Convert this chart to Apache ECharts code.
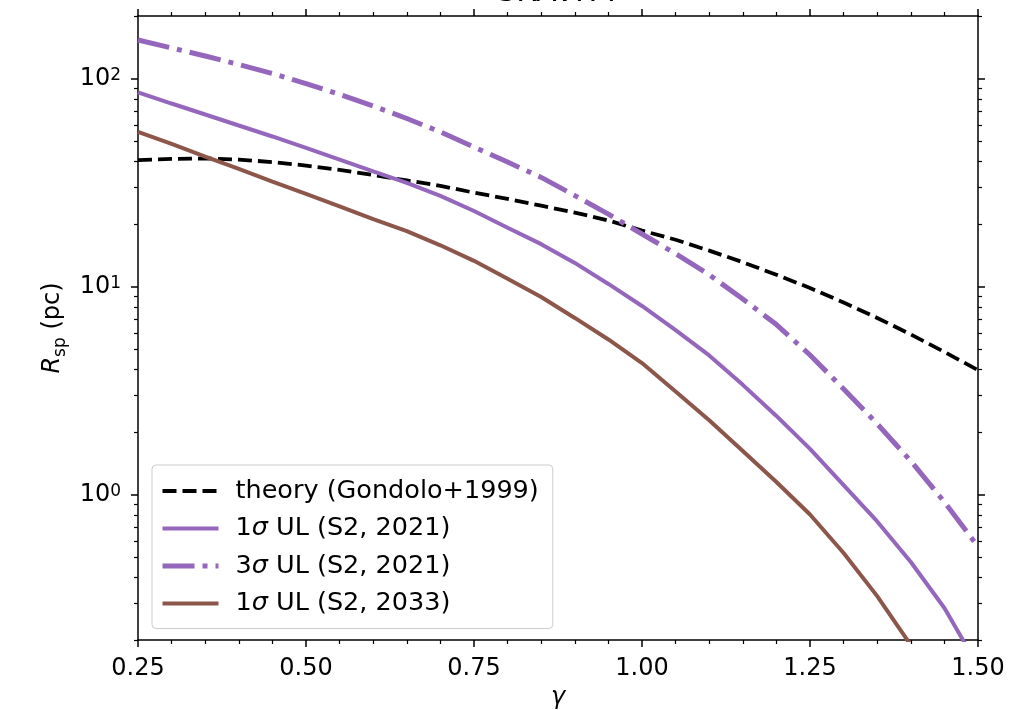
<!DOCTYPE html>
<html><head><meta charset="utf-8">
<script src="https://cdn.jsdelivr.net/npm/echarts@6/dist/echarts.min.js"></script>
<style>html,body{margin:0;padding:0;background:#fff}#chart{width:1020px;height:710px}</style>
</head><body><div id="chart"></div>
<script>
// ---- data ----
const gamma = [0.25,0.30,0.35,0.40,0.45,0.50,0.55,0.60,0.65,0.70,0.75,0.80,0.85,0.90,0.95,1.00,1.05,1.10,1.15,1.20,1.25,1.30,1.35,1.40,1.45,1.50];
const theory = [40.6,41.1,41.3,40.8,39.7,38.2,36.4,34.4,32.4,30.5,28.3,26.4,24.5,22.7,20.8,18.6,16.8,14.9,13.1,11.4,9.85,8.39,7.07,5.89,4.85,3.97];
const ul1s2021 = [85.9,75.9,67.2,59.5,52.7,46.4,40.8,35.8,31.5,27.3,23.1,19.2,16.0,13.0,10.3,8.07,6.18,4.67,3.37,2.39,1.66,1.11,0.743,0.474,0.285,0.150];
const ul3s2021 = [153.3,140.4,128.5,116.9,105.8,94.7,83.9,73.8,64.3,55.4,46.9,39.7,33.5,27.4,22.3,17.9,14.4,11.4,8.72,6.57,4.69,3.22,2.19,1.45,0.921,0.562];
const ul1s2033 = [55.5,48.5,42.2,36.8,32.0,27.9,24.3,21.1,18.5,15.8,13.3,10.9,8.91,7.07,5.57,4.29,3.13,2.28,1.62,1.15,0.802,0.524,0.325,0.189];
const seriesNames = ['theory (Gondolo+1999)', '1σ UL (S2, 2021)', '3σ UL (S2, 2021)', '1σ UL (S2, 2033)'];
const yMajorTicks = [1, 10, 100];
const yMinorTicks = [0.2,0.3,0.4,0.5,0.6,0.7,0.8,0.9,2,3,4,5,6,7,8,9,20,30,40,50,60,70,80,90,200];
const xTickLabels = ['0.25','0.50','0.75','1.00','1.25','1.50'];
const titleText = 'GRAVITY';
const yMin = 0.2, yMax = 200;
const xMin = 0.25, xMax = 1.5, xStep = 0.25;

// ---- chart ----
const FONT = 'DejaVu Sans';
const lg = v => Math.log10(v);
const pairs = arr => arr.map((v, i) => [gamma[i], v]);
const axisLineStyle = {color: '#000', width: 1.5};

function yTickAxis(position, values, len, width, showLine, withLabels) {
  const ax = {
    type: 'value', gridIndex: 0, position: position,
    min: lg(yMin), max: lg(yMax),
    axisLine: {show: showLine, onZero: false, lineStyle: axisLineStyle},
    axisTick: {show: true, inside: false, length: len, lineStyle: {color: '#000', width: width}, customValues: values.map(lg)},
    axisLabel: {show: false},
    splitLine: {show: false}
  };
  if (withLabels) {
    ax.axisLabel = {
      show: true, customValues: values.map(lg), margin: 17,
      formatter: v => '{b|10}{s|' + Math.round(v) + '}',
      rich: {
        b: {fontSize: 24, lineHeight: 24, fontFamily: FONT, color: '#000', verticalAlign: 'bottom'},
        s: {fontSize: 17, lineHeight: 17, fontFamily: FONT, color: '#000', verticalAlign: 'top', padding: [0, 0, 10, 0]}
      }
    };
    ax.name = '{i|R}{sub|sp}{n| (pc)}';
    ax.nameLocation = 'middle';
    ax.nameRotate = 90;
    ax.nameGap = 66;
    ax.nameTextStyle = {
      color: '#000', fontFamily: FONT, fontSize: 24,
      rich: {
        i: {fontSize: 24, lineHeight: 24, fontStyle: 'italic', fontFamily: FONT, color: '#000', verticalAlign: 'top'},
        sub: {fontSize: 17, lineHeight: 28, fontFamily: FONT, color: '#000', verticalAlign: 'bottom'},
        n: {fontSize: 24, lineHeight: 24, fontFamily: FONT, color: '#000', verticalAlign: 'top'}
      }
    };
  }
  return ax;
}

function xAxisDef(position, withLabels) {
  const ax = {
    type: 'value', gridIndex: 0, position: position,
    min: xMin, max: xMax, interval: xStep,
    axisLine: {show: true, onZero: false, lineStyle: axisLineStyle},
    axisTick: {show: true, inside: false, length: 7, lineStyle: {color: '#000', width: 1.5}},
    minorTick: {show: true, splitNumber: 5, length: 4, lineStyle: {color: '#000', width: 1.2}},
    splitLine: {show: false},
    axisLabel: {show: false}
  };
  if (withLabels) {
    ax.axisLabel = {
      show: true, margin: 17, fontSize: 24, fontFamily: FONT, color: '#000',
      formatter: v => xTickLabels[Math.round((v - xMin) / xStep)]
    };
    ax.name = 'γ';
    ax.nameLocation = 'middle';
    ax.nameGap = 46;
    ax.nameTextStyle = {fontSize: 24, fontStyle: 'italic', fontFamily: FONT, color: '#000'};
  }
  return ax;
}

const chart = echarts.init(document.getElementById('chart'), null, {renderer: 'canvas'});
chart.setOption({
  animation: false,
  backgroundColor: '#fff',
  title: {
    text: titleText, left: 493, top: -22, padding: 0,
    textStyle: {fontSize: 30, fontWeight: 'normal', color: '#000', fontFamily: FONT}
  },
  grid: {left: 138, right: 42, top: 16, bottom: 70, containLabel: false, outerBoundsMode: 'none'},
  xAxis: [xAxisDef('bottom', true), xAxisDef('top', false)],
  yAxis: [
    {type: 'log', logBase: 10, min: yMin, max: yMax, position: 'left',
     axisLine: {show: false}, axisTick: {show: false}, axisLabel: {show: false},
     splitLine: {show: false}, minorTick: {show: false}, minorSplitLine: {show: false}},
    yTickAxis('left', yMajorTicks, 7, 1.5, true, true),
    yTickAxis('left', yMinorTicks, 4, 1.2, false, false),
    yTickAxis('right', yMajorTicks, 7, 1.5, true, false),
    yTickAxis('right', yMinorTicks, 4, 1.2, false, false)
  ],
  legend: {
    orient: 'vertical', left: 152, top: 465,
    padding: [13, 14, 12, 8], itemGap: 11.5, itemWidth: 56, itemHeight: 14,
    backgroundColor: 'rgba(255,255,255,0.8)', borderColor: '#cccccc', borderWidth: 1, borderRadius: 4,
    data: seriesNames,
    itemStyle: {opacity: 0, borderWidth: 0},
    lineStyle: {width: 'inherit', type: 'inherit'},
    formatter: name => name.replace('σ', '{i|σ}'),
    textStyle: {
      fontSize: 25.5, fontFamily: FONT, color: '#000', padding: [0, 0, 0, 12],
      rich: {i: {fontSize: 25.5, fontStyle: 'italic', fontFamily: FONT, color: '#000'}}
    }
  },
  series: [
    {name: seriesNames[0], type: 'line', xAxisIndex: 0, yAxisIndex: 0, data: pairs(theory),
     symbol: 'none', clip: true, color: '#000',
     lineStyle: {color: '#000', width: 3.8, type: [14, 6]}},
    {name: seriesNames[1], type: 'line', xAxisIndex: 0, yAxisIndex: 0, data: pairs(ul1s2021),
     symbol: 'none', clip: true, color: '#9467bd',
     lineStyle: {color: '#9467bd', width: 4, type: 'solid'}},
    {name: seriesNames[2], type: 'line', xAxisIndex: 0, yAxisIndex: 0, data: pairs(ul3s2021),
     symbol: 'none', clip: true, color: '#9467bd',
     lineStyle: {color: '#9467bd', width: 5, type: [32, 8, 5, 8]}},
    {name: seriesNames[3], type: 'line', xAxisIndex: 0, yAxisIndex: 0, data: pairs(ul1s2033),
     symbol: 'none', clip: true, color: '#8c564b',
     lineStyle: {color: '#8c564b', width: 4, type: 'solid'}}
  ]
});
</script>
</body></html>
